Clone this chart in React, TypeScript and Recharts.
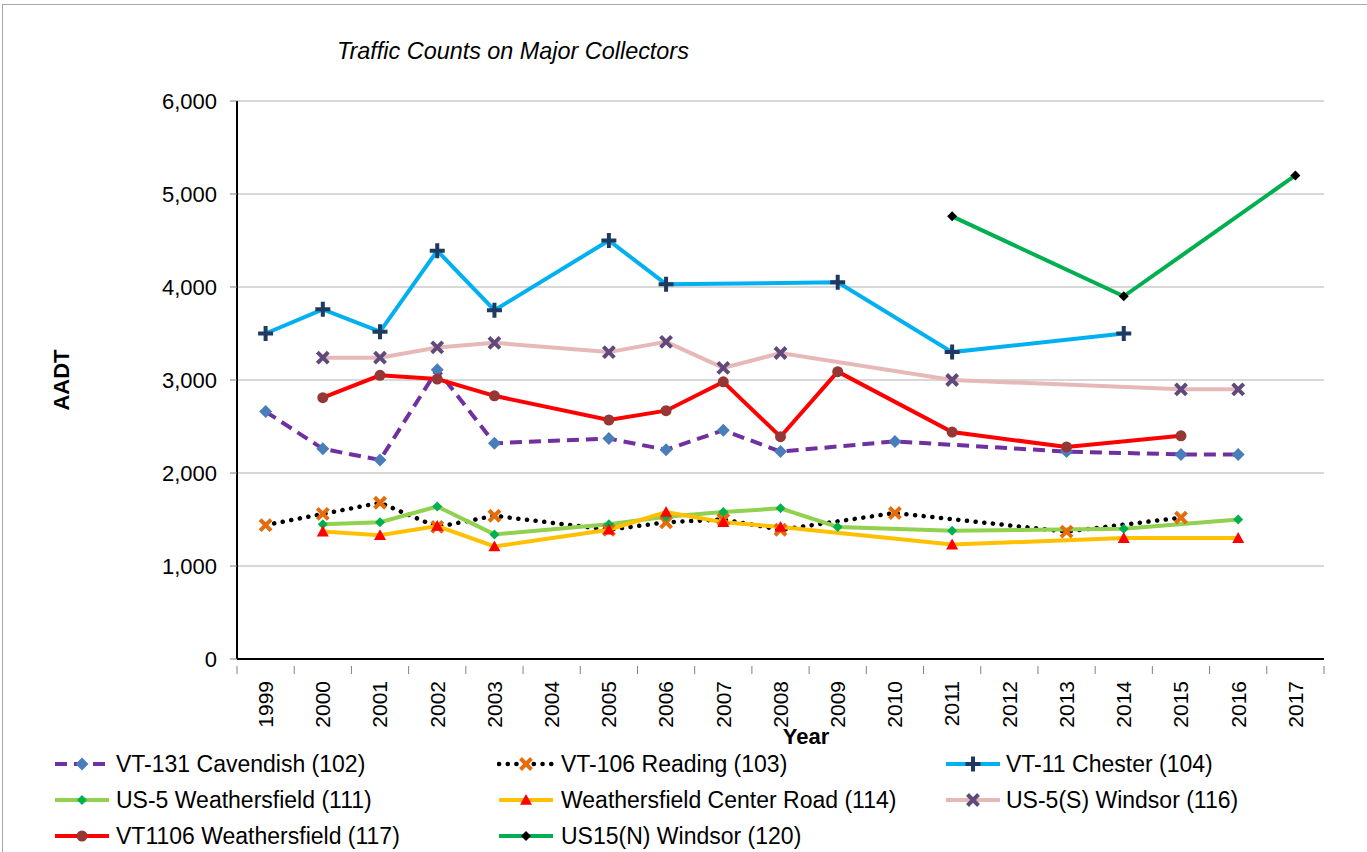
import React from 'react'
import { LineChart, Line, XAxis, YAxis, CartesianGrid } from 'recharts'

// values (AADT), null = no count that year
const years = ['1999', '2000', '2001', '2002', '2003', '2004', '2005', '2006', '2007', '2008', '2009', '2010', '2011', '2012', '2013', '2014', '2015', '2016', '2017']
const cavendish102 = [2660, 2260, 2140, 3110, 2320, null, 2370, 2250, 2460, 2230, null, 2340, null, null, 2230, null, 2200, 2200, null]
const reading103 = [1440, 1560, 1680, 1420, 1540, null, 1390, 1470, 1500, 1390, null, 1570, null, null, 1370, null, 1520, null, null]
const chester104 = [3500, 3760, 3520, 4390, 3750, null, 4500, 4030, null, null, 4050, null, 3300, null, null, 3500, null, null, null]
const weathersfield111 = [null, 1450, 1470, 1640, 1340, null, 1450, 1530, 1580, 1620, 1420, null, 1380, null, null, 1400, null, 1500, null]
const centerRoad114 = [null, 1370, 1330, 1430, 1210, null, 1390, 1580, 1470, 1420, null, null, 1230, null, null, 1300, null, 1300, null]
const windsor116 = [null, 3240, 3240, 3350, 3400, null, 3300, 3410, 3130, 3290, null, null, 3000, null, null, null, 2900, 2900, null]
const weathersfield117 = [null, 2810, 3050, 3010, 2830, null, 2570, 2670, 2980, 2390, 3090, null, 2440, null, 2280, null, 2400, null, null]
const windsor120 = [null, null, null, null, null, null, null, null, null, null, null, null, 4760, null, null, 3900, null, null, 5200]
const yTicks = [0, 1000, 2000, 3000, 4000, 5000, 6000]

const W = 1367
const H = 852
const PLOT = { left: 237, right: 1324, top: 101, bottom: 659 }
const BAND = (PLOT.right - PLOT.left) / years.length
const Y_AXIS_W = 90
const X_AXIS_H = 70
const FONT = "'Liberation Sans', Arial, sans-serif"

type Kind = 'diamond' | 'x' | 'plus' | 'triangle' | 'circle'

interface SeriesDef {
  key: string
  name: string
  values: (number | null)[]
  stroke: string
  dash?: string
  cap?: 'round' | 'butt'
  width: number
  marker: Kind
  markerColor: string
  markerSize: number
}

const series: SeriesDef[] = [
  { key: 's102', name: 'VT-131 Cavendish (102)', values: cavendish102, stroke: '#7030A0', dash: '12 7', width: 4, marker: 'diamond', markerColor: '#4A7EBB', markerSize: 6.5 },
  { key: 's103', name: 'VT-106 Reading (103)', values: reading103, stroke: '#000000', dash: '0.1 8.6', cap: 'round', width: 4.5, marker: 'x', markerColor: '#E46C0A', markerSize: 5.5 },
  { key: 's104', name: 'VT-11 Chester (104)', values: chester104, stroke: '#00B0F0', width: 4, marker: 'plus', markerColor: '#1F3A60', markerSize: 7.5 },
  { key: 's111', name: 'US-5 Weathersfield (111)', values: weathersfield111, stroke: '#92D050', width: 4, marker: 'diamond', markerColor: '#00B050', markerSize: 5 },
  { key: 's114', name: 'Weathersfield Center Road (114)', values: centerRoad114, stroke: '#FFC000', width: 4, marker: 'triangle', markerColor: '#FF0000', markerSize: 6 },
  { key: 's116', name: 'US-5(S) Windsor (116)', values: windsor116, stroke: '#E6B9B8', width: 4, marker: 'x', markerColor: '#604A7B', markerSize: 5.5 },
  { key: 's117', name: 'VT1106 Weathersfield (117)', values: weathersfield117, stroke: '#FF0000', width: 4, marker: 'circle', markerColor: '#953735', markerSize: 5.5 },
  { key: 's120', name: 'US15(N) Windsor (120)', values: windsor120, stroke: '#00B050', width: 4, marker: 'diamond', markerColor: '#000000', markerSize: 5 },
]

const data = years.map((year, i) => {
  const row: Record<string, string | number | null> = { year }
  series.forEach(s => { row[s.key] = s.values[i] })
  return row
})

function Marker({ kind, x, y, size, color }: { kind: Kind; x: number; y: number; size: number; color: string }) {
  switch (kind) {
    case 'diamond':
      return <polygon points={`${x},${y - size} ${x + size},${y} ${x},${y + size} ${x - size},${y}`} fill={color} />
    case 'x':
      return <path d={`M${x - size},${y - size}L${x + size},${y + size}M${x - size},${y + size}L${x + size},${y - size}`} stroke={color} strokeWidth={4} />
    case 'plus':
      return <path d={`M${x - size},${y}H${x + size}M${x},${y - size}V${y + size}`} stroke={color} strokeWidth={4} />
    case 'triangle':
      return <polygon points={`${x},${y - size} ${x + size},${y + size * 0.8} ${x - size},${y + size * 0.8}`} fill={color} />
    default:
      return <circle cx={x} cy={y} r={size} fill={color} />
  }
}

function makeDot(s: SeriesDef) {
  return (p: any) => {
    const k = `${s.key}-${p.index}`
    if (p.value == null || p.cx == null || p.cy == null) return <g key={k} />
    return (
      <g key={k}>
        <Marker kind={s.marker} x={p.cx} y={p.cy} size={s.markerSize} color={s.markerColor} />
      </g>
    )
  }
}

function YearTick(props: any) {
  const { x, y, payload, index } = props
  const half = BAND / 2
  return (
    <g>
      <line x1={x - half} x2={x - half} y1={y - 1} y2={y + 7} stroke="#808080" strokeWidth={1} />
      {index === years.length - 1 && (
        <line x1={x + half} x2={x + half} y1={y - 1} y2={y + 7} stroke="#808080" strokeWidth={1} />
      )}
      <text
        x={x}
        y={y + 14}
        transform={`rotate(-90 ${x} ${y + 14})`}
        textAnchor="end"
        dy="0.35em"
        fontSize={21}
        fontFamily={FONT}
        fill="#000"
      >
        {payload.value}
      </text>
    </g>
  )
}

const legendCols = [53, 497, 944]
const legendTextCols = [116, 561, 1006]
const legendRows = [764, 800, 836]

export default function App() {
  return (
    <div style={{ position: 'absolute', left: 0, top: 0, width: W, height: H, background: '#fff', fontFamily: FONT, overflow: 'hidden' }}>
      {/* chart frame */}
      <div style={{ position: 'absolute', left: 2, top: 4, width: W, height: H, borderLeft: '1px solid #A6A6A6', borderTop: '1px solid #A6A6A6' }} />

      <div style={{ position: 'absolute', left: 337, top: 37, fontSize: 23.4, fontStyle: 'italic', lineHeight: '28px', whiteSpace: 'nowrap' }}>
        Traffic Counts on Major Collectors
      </div>

      <LineChart
        width={W}
        height={H}
        data={data}
        style={{ position: 'absolute', left: 0, top: 0 }}
        margin={{ top: PLOT.top, right: W - PLOT.right, bottom: H - PLOT.bottom - X_AXIS_H, left: PLOT.left - Y_AXIS_W }}
      >
        <CartesianGrid vertical={false} stroke="#B0B0B0" strokeWidth={1} />
        <XAxis
          dataKey="year"
          interval={0}
          height={X_AXIS_H}
          padding={{ left: BAND / 2, right: BAND / 2 }}
          axisLine={{ stroke: '#000', strokeWidth: 2 }}
          tickLine={false}
          tick={<YearTick />}
        />
        <YAxis
          domain={[0, 6000]}
          ticks={yTicks}
          width={Y_AXIS_W}
          tickSize={7}
          tickMargin={13}
          tickLine={{ stroke: '#808080' }}
          axisLine={{ stroke: '#000', strokeWidth: 2 }}
          tick={{ fill: '#000', fontSize: 22, fontFamily: FONT }}
          tickFormatter={(v: number) => v.toLocaleString('en-US')}
        />
        <YAxis
          yAxisId="frame"
          orientation="right"
          domain={[0, 6000]}
          width={0}
          tick={false}
          tickLine={false}
          axisLine={{ stroke: '#A6A6A6', strokeWidth: 2 }}
        />
        {series.map(s => (
          <Line
            key={s.key}
            type="linear"
            dataKey={s.key}
            name={s.name}
            stroke={s.stroke}
            strokeWidth={s.width}
            strokeDasharray={s.dash}
            strokeLinecap={s.cap ?? 'butt'}
            connectNulls
            dot={makeDot(s)}
            activeDot={false}
            isAnimationActive={false}
          />
        ))}
      </LineChart>

      <div style={{ position: 'absolute', left: 62, top: 380, transform: 'translate(-50%, -50%) rotate(-90deg)', fontSize: 22, fontWeight: 'bold' }}>
        AADT
      </div>
      <div style={{ position: 'absolute', left: 806, top: 737, transform: 'translate(-50%, -50%)', fontSize: 22, fontWeight: 'bold' }}>
        Year
      </div>

      {series.map((s, i) => {
        const col = i % 3
        const row = Math.floor(i / 3)
        const cy = legendRows[row]
        return (
          <React.Fragment key={s.key}>
            <svg style={{ position: 'absolute', left: legendCols[col], top: cy - 10 }} width={58} height={20}>
              <line x1={2} x2={56} y1={10} y2={10} stroke={s.stroke} strokeWidth={s.width} strokeDasharray={s.dash} strokeLinecap={s.cap ?? 'butt'} />
              <Marker kind={s.marker} x={29} y={10} size={s.markerSize} color={s.markerColor} />
            </svg>
            <div style={{ position: 'absolute', left: legendTextCols[col], top: cy - 14, fontSize: 23, lineHeight: '28px', whiteSpace: 'nowrap' }}>
              {s.name}
            </div>
          </React.Fragment>
        )
      })}
    </div>
  )
}
